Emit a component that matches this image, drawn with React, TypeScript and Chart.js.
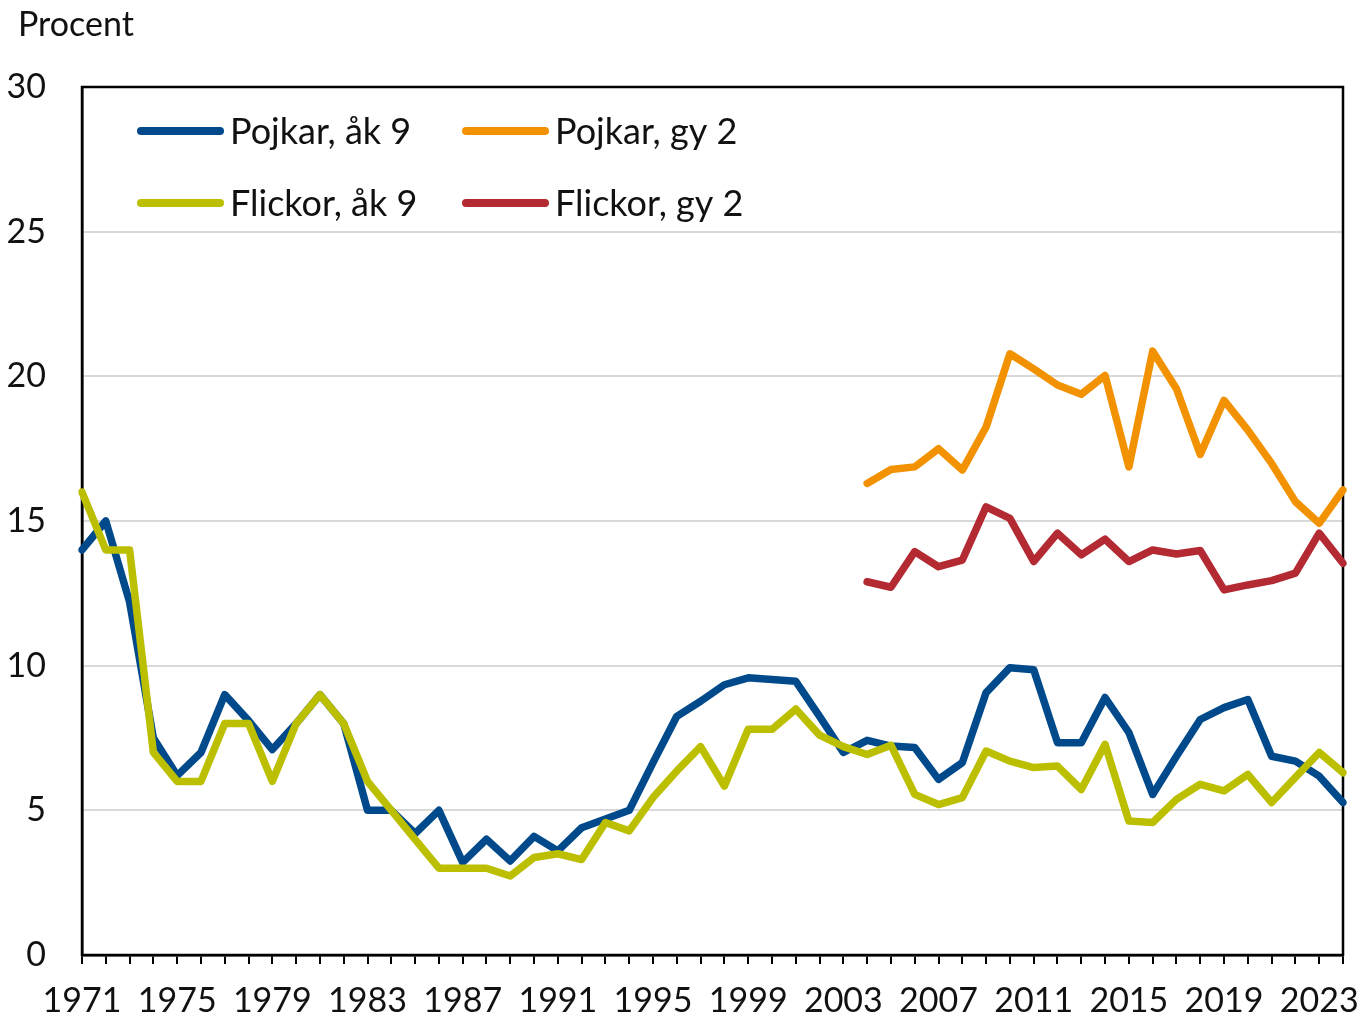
import React, { useEffect, useRef } from "react";
import { Chart, registerables } from "chart.js";

Chart.register(...registerables);

const years: string[] = [];
for (let y = 1971; y <= 2024; y++) years.push(String(y));

const yTicks = [0, 5, 10, 15, 20, 25, 30];

const pojkarAk9 = [
  14.0, 15.0, 12.2, 7.5, 6.2, 7.0, 9.0, 8.1, 7.1, 8.0, 9.0, 8.0, 5.0, 5.0, 4.2, 5.0,
  3.2, 4.0, 3.25, 4.1, 3.6, 4.4, 4.7, 5.0, 6.65, 8.25, 8.77, 9.34, 9.58, 9.52, 9.46, 8.25,
  7.0, 7.42, 7.22, 7.17, 6.07, 6.65, 9.07, 9.93, 9.86, 7.34, 7.34, 8.9, 7.69, 5.55,
  6.87, 8.14, 8.55, 8.83, 6.87, 6.7, 6.18, 5.27,
];

const flickorAk9 = [
  16.0, 14.0, 14.0, 7.0, 6.0, 6.0, 8.0, 8.0, 6.0, 8.0, 9.0, 8.0, 6.0, 5.0, 4.0, 3.0,
  3.0, 3.0, 2.73, 3.37, 3.5, 3.3, 4.58, 4.29, 5.44, 6.36, 7.2, 5.84, 7.8, 7.8, 8.5, 7.6,
  7.2, 6.93, 7.25, 5.55, 5.2, 5.44, 7.05, 6.7, 6.48, 6.53, 5.72, 7.28, 4.63, 4.58,
  5.38, 5.9, 5.67, 6.24, 5.27, 6.14, 7.0, 6.3,
];

const pojkarGy2Start = 2004;
const pojkarGy2 = [
  16.3, 16.78, 16.87, 17.5, 16.76, 18.25, 20.78, 20.26, 19.7, 19.38, 20.03, 16.87,
  20.87, 19.57, 17.3, 19.17, 18.14, 16.99, 15.67, 14.92, 16.07,
];

const flickorGy2 = [
  12.9, 12.71, 13.94, 13.42, 13.65, 15.49, 15.09, 13.6, 14.58, 13.83, 14.37, 13.6,
  14.0, 13.86, 13.98, 12.62, 12.79, 12.94, 13.2, 14.58, 13.54,
];

const seriesLabels = ["Pojkar, åk 9", "Pojkar, gy 2", "Flickor, åk 9", "Flickor, gy 2"];
const seriesColors = ["#004a8b", "#f39200", "#bcbf00", "#b32a33"];

const yAxisTitle = "Procent";
const FONT = "Lato, 'Open Sans', sans-serif";

function pad(arr: number[], start: number): (number | null)[] {
  const out: (number | null)[] = [];
  for (const y of years) {
    const idx = Number(y) - start;
    out.push(idx >= 0 && idx < arr.length ? arr[idx] : null);
  }
  return out;
}

export default function App() {
  const ref = useRef<HTMLCanvasElement | null>(null);

  useEffect(() => {
    document.body.style.margin = "0";
    const canvas = ref.current!;
    const datasetsData = [pojkarAk9, pad(pojkarGy2, pojkarGy2Start), flickorAk9, pad(flickorGy2, pojkarGy2Start)];
    const drawOrder = [3, 2, 1, 0];

    const overlay = {
      id: "overlay",
      beforeDatasetsDraw(chart: any) {
        const { ctx, chartArea } = chart;
        ctx.save();
        ctx.strokeStyle = "#000";
        ctx.lineWidth = 2.5;
        ctx.strokeRect(chartArea.left, chartArea.top, chartArea.right - chartArea.left, chartArea.bottom - chartArea.top);
        ctx.restore();
      },
      afterDraw(chart: any) {
        const { ctx, chartArea } = chart;
        ctx.save();
        ctx.fillStyle = "#111";
        ctx.font = `34px ${FONT}`;
        ctx.textBaseline = "middle";
        ctx.textAlign = "left";
        ctx.fillText(yAxisTitle, 18, 25);
        // legend
        const cols = [chartArea.left + 55, chartArea.left + 380];
        const rows = [chartArea.top + 44, chartArea.top + 116];
        chart.data.datasets.forEach((ds: any, i: number) => {
          const x = cols[i % 2];
          const y = rows[Math.floor(i / 2)];
          ctx.strokeStyle = ds.borderColor;
          ctx.lineWidth = 8;
          ctx.lineCap = "round";
          ctx.beginPath();
          ctx.moveTo(x + 4, y);
          ctx.lineTo(x + 83, y);
          ctx.stroke();
          ctx.fillStyle = "#111";
          ctx.font = `36px ${FONT}`;
          ctx.fillText(ds.label, x + 93, y + 1);
        });
        ctx.restore();
      },
    };

    const chart = new Chart(canvas, {
      type: "line",
      data: {
        labels: years,
        datasets: seriesLabels.map((label, i) => ({
          label,
          data: datasetsData[i],
          borderColor: seriesColors[i],
          backgroundColor: seriesColors[i],
          borderWidth: 7.5,
          pointRadius: 0,
          tension: 0,
          spanGaps: false,
          borderCapStyle: "round" as const,
          borderJoinStyle: "round" as const,
          order: drawOrder[i],
        })),
      },
      options: {
        responsive: false,
        animation: false,
        layout: { padding: { left: 0, top: 87, right: 20, bottom: 0 } },
        plugins: { legend: { display: false }, tooltip: { enabled: false }, title: { display: false } },
        scales: {
          x: {
            type: "category",
            offset: false,
            grid: {
              drawOnChartArea: false,
              drawTicks: true,
              tickLength: 9,
              color: "#000",
              lineWidth: 2,
            },
            border: { display: true, color: "#000", width: 2.5 },
            ticks: {
              autoSkip: false,
              maxRotation: 0,
              minRotation: 0,
              padding: 17,
              color: "#111",
              font: { family: FONT, size: 34 },
              callback: (_v: any, idx: number) => (idx % 4 === 0 ? years[idx] : ""),
            },
            afterFit: (s: any) => {
              s.height = 66;
            },
          },
          y: {
            min: 0,
            max: 30,
            afterBuildTicks: (s: any) => {
              s.ticks = yTicks.map((v) => ({ value: v }));
            },
            grid: {
              drawTicks: false,
              color: (c: any) => (c.tick && (c.tick.value === 0 || c.tick.value === 30) ? "rgba(0,0,0,0)" : "#d9d9d9"),
              lineWidth: 2,
            },
            border: { display: true, color: "#000", width: 2.5 },
            ticks: {
              padding: 36,
              color: "#111",
              font: { family: FONT, size: 34 },
            },
            afterFit: (s: any) => {
              s.width = 82;
            },
          },
        },
      },
      plugins: [overlay],
    });
    return () => chart.destroy();
  }, []);

  return (
    <div style={{ position: "fixed", left: 0, top: 0, width: 1363, height: 1021, background: "#fff" }}>
      <canvas ref={ref} width={1363} height={1021} style={{ width: 1363, height: 1021, display: "block" }} />
    </div>
  );
}
